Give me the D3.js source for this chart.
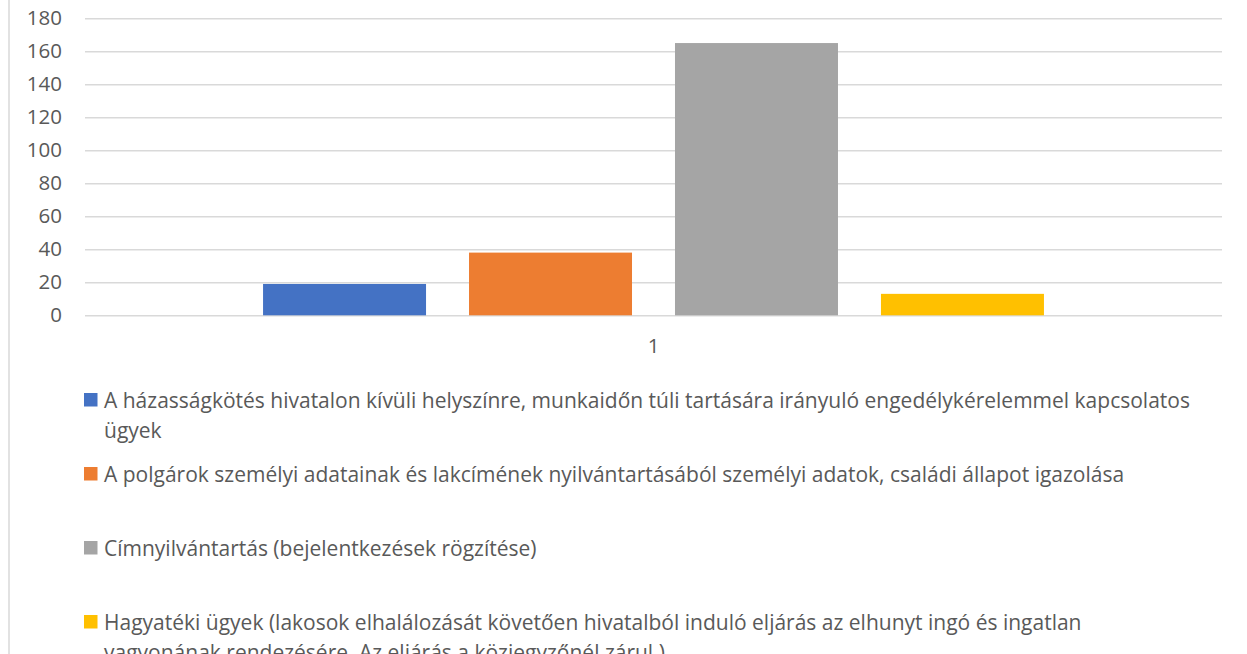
<!DOCTYPE html>
<html>
<head>
<meta charset="utf-8">
<script src="https://cdn.jsdelivr.net/npm/d3@7"></script>
<style>
  html, body { margin: 0; padding: 0; background: #fff; overflow: hidden; }
  text { font-family: "Open Sans", sans-serif; fill: #595959; }
</style>
</head>
<body>
<svg id="chart" width="1247" height="654"></svg>
<script>
// category (single) and series
const categories = ["1"];
// legend names, with the line breaks as they are wrapped in the legend
const seriesNames = [
  ["A házasságkötés hivatalon kívüli helyszínre, munkaidőn túli tartására irányuló engedélykérelemmel kapcsolatos",
   "ügyek"],
  ["A polgárok személyi adatainak és lakcímének nyilvántartásából személyi adatok, családi állapot igazolása"],
  ["Címnyilvántartás (bejelentkezések rögzítése)"],
  ["Hagyatéki ügyek (lakosok elhalálozását követően hivatalból induló eljárás az elhunyt ingó és ingatlan",
   "vagyonának rendezésére. Az eljárás a közjegyzőnél zárul.)"]
];
const seriesValues = [19, 38, 165, 13];
const seriesColors = ["#4472C4", "#ED7D31", "#A5A5A5", "#FFC000"];
const yTicks = [0, 20, 40, 60, 80, 100, 120, 140, 160, 180];

const svg = d3.select("#chart");
const plot = { left: 85, right: 1222, top: 18.3, bottom: 315.3 };
const axisFont = 20.5;
const legendFont = 21;

// chart border on the left edge
svg.append("line")
    .attr("x1", 9).attr("x2", 9)
    .attr("y1", 0).attr("y2", 654)
    .attr("stroke", "#d9d9d9").attr("stroke-width", 1.5);

const y = d3.scaleLinear().domain([0, 180]).range([plot.bottom, plot.top]);
const x0 = d3.scaleBand().domain(categories)
    .range([plot.left, plot.right])
    .paddingInner(0).paddingOuter(0.228);
const x1 = d3.scaleBand().domain(d3.range(seriesValues.length))
    .range([0, x0.bandwidth()])
    .paddingInner(0.2087).paddingOuter(0);

// gridlines + tick labels via axis
const yAxis = d3.axisLeft(y).tickValues(yTicks)
    .tickSize(-(plot.right - plot.left)).tickPadding(23);
const gy = svg.append("g")
    .attr("transform", "translate(" + plot.left + ",0)")
    .call(yAxis);
gy.select(".domain").remove();
gy.selectAll(".tick line").attr("stroke", "#d9d9d9").attr("stroke-width", 1.5);
gy.selectAll(".tick text")
    .style("font-family", "'Open Sans', sans-serif")
    .style("font-size", axisFont + "px")
    .attr("fill", "#595959");

// bars
const g = svg.append("g").attr("transform", "translate(" + x0(categories[0]) + ",0)");
g.selectAll("rect")
  .data(seriesValues)
  .join("rect")
    .attr("x", (d, i) => x1(i))
    .attr("y", d => y(d))
    .attr("width", x1.bandwidth())
    .attr("height", d => y(0) - y(d))
    .attr("fill", (d, i) => seriesColors[i]);

// category axis label
const xAxis = d3.axisBottom(x0).tickSize(0).tickPadding(23);
const gx = svg.append("g")
    .attr("transform", "translate(0," + plot.bottom + ")")
    .call(xAxis);
gx.select(".domain").remove();
gx.selectAll(".tick text")
    .style("font-family", "'Open Sans', sans-serif")
    .style("font-size", axisFont + "px")
    .attr("fill", "#595959");

// legend
const legendY = d3.scalePoint().domain(d3.range(seriesNames.length))
    .range([400, 622]);
const textX = 104, lineH = 30;

const legend = svg.append("g");
seriesNames.forEach((lines, i) => {
  const cy = legendY(i);
  legend.append("rect")
      .attr("x", 84).attr("y", cy - 7)
      .attr("width", 13.5).attr("height", 13.5)
      .attr("fill", seriesColors[i]);
  const t = legend.append("text")
      .attr("x", textX).attr("y", cy)
      .attr("dominant-baseline", "central")
      .style("font-size", legendFont + "px");
  lines.forEach((ln, k) => {
    t.append("tspan").attr("x", textX).attr("dy", k === 0 ? 0 : lineH).text(ln);
  });
});
</script>
</body>
</html>
